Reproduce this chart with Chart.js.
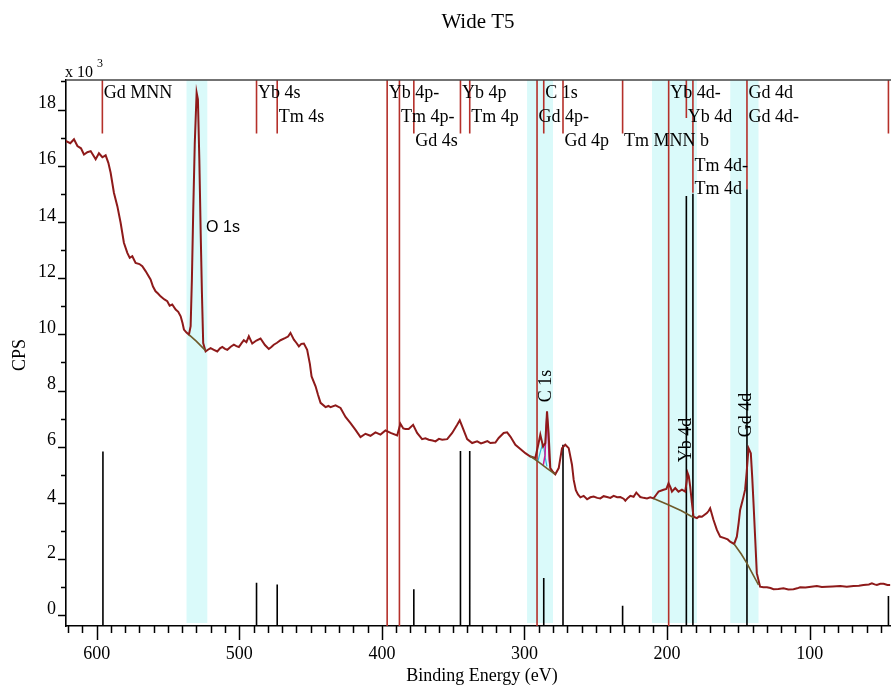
<!DOCTYPE html>
<html>
<head>
<meta charset="utf-8">
<title>Wide T5</title>
<script src="https://cdn.jsdelivr.net/npm/chart.js@4.4.1/dist/chart.umd.min.js"></script>
<style>
  html, body { margin: 0; padding: 0; background: #fff; }
  #wrap { width: 891px; height: 688px; position: relative; }
</style>
</head>
<body>
<div id="wrap"><canvas id="graficoWide"></canvas></div>
<script>
// survey spectrum: binding energy (eV) and CPS (x 10^3)
const energia = [
  621.7, 618.5, 615.9, 613.5, 611.0, 608.9, 606.5, 604.2, 602.3, 600.7, 598.4, 596.0, 593.7, 591.8, 590.2,
  587.9, 585.5, 583.2, 580.9, 578.5, 576.8, 575.0, 572.7, 570.0, 568.0, 565.7, 562.2, 560.5, 558.7, 557.0,
  555.2, 552.5, 550.5, 548.8, 547.0, 544.6, 542.8, 541.1, 539.8, 538.8, 537.0, 535.3, 534.1, 533.2, 532.3,
  531.2, 529.9, 529.0, 528.0, 527.1, 526.2, 525.3, 523.6, 522.0, 520.1, 517.8, 515.4, 513.5, 511.9, 510.0,
  508.4, 506.0, 503.8, 502.0, 500.3, 498.5, 496.8, 495.0, 493.3, 490.9, 488.0, 485.1, 482.0, 479.3, 477.5,
  475.8, 473.5, 471.1, 467.6, 465.8, 464.1, 461.7, 460.0, 458.2, 456.5, 454.7, 452.4, 450.5, 449.3, 446.5,
  444.8, 443.0, 439.5, 437.5, 436.0, 432.5, 429.0, 425.5, 422.0, 418.5, 415.0, 411.5, 408.0, 404.5, 401.0,
  397.5, 393.9, 389.3, 387.0, 385.0, 383.5, 381.2, 378.1, 375.3, 371.8, 369.5, 367.1, 364.5, 362.4, 360.0,
  357.7, 354.2, 350.7, 347.2, 345.4, 343.7, 340.2, 336.7, 333.2, 330.5, 328.6, 326.0, 323.9, 320.4, 318.1,
  314.6, 312.2, 309.9, 306.4, 302.9, 299.4, 295.9, 292.4, 290.1, 288.9, 287.0, 285.4, 284.2, 283.1, 281.9,
  280.0, 278.4, 276.0, 273.7, 271.4, 269.0, 266.7, 265.5, 264.0, 262.5, 260.8, 258.5, 256.1, 253.8, 251.5,
  249.0, 246.8, 244.5, 242.1, 239.8, 237.5, 235.0, 232.8, 230.5, 229.3, 227.5, 225.8, 223.5, 221.6, 220.0,
  218.8, 216.5, 214.1, 211.8, 209.5, 207.5, 206.0, 202.5, 200.5, 199.0, 197.6, 196.6, 194.3, 192.0, 189.6,
  187.3, 186.3, 185.6, 184.8, 183.8, 182.6, 181.5, 179.1, 177.5, 175.6, 172.1, 170.8, 169.8, 168.6, 167.5,
  165.1, 162.8, 159.3, 157.5, 155.8, 153.0, 151.1, 149.8, 148.8, 147.0, 145.3, 144.2, 142.9, 141.3, 140.3,
  139.4, 138.2, 137.1, 134.8, 132.5, 130.0, 127.5, 125.4, 122.0, 118.4, 115.0, 111.4, 108.8, 106.7, 103.0,
  99.0, 95.0, 91.5, 88.0, 84.0, 78.6, 74.0, 69.3, 65.5, 62.3, 58.5, 56.4, 54.5, 52.9, 50.5,
  48.2, 45.5, 43.6
];
const cps = [
  16.88, 16.80, 16.94, 16.70, 16.62, 16.40, 16.48, 16.52, 16.36, 16.23, 16.44, 16.30, 16.37, 16.10, 15.75,
  15.04, 14.56, 13.97, 13.26, 12.90, 12.72, 12.78, 12.54, 12.50, 12.42, 12.25, 11.95, 11.70, 11.53, 11.45,
  11.35, 11.24, 11.18, 11.02, 11.06, 10.88, 10.80, 10.64, 10.40, 10.17, 10.06, 9.99, 10.29, 12.00, 14.34,
  16.80, 18.60, 18.36, 16.20, 13.73, 11.50, 9.69, 9.39, 9.45, 9.51, 9.45, 9.39, 9.50, 9.55, 9.48,
  9.45, 9.56, 9.63, 9.58, 9.55, 9.68, 9.79, 9.72, 9.93, 9.67, 9.78, 9.85, 9.62, 9.48, 9.55,
  9.63, 9.70, 9.79, 9.87, 9.92, 10.05, 9.81, 9.70, 9.57, 9.66, 9.67, 9.45, 8.95, 8.50, 8.15,
  7.85, 7.56, 7.41, 7.45, 7.41, 7.47, 7.38, 7.06, 6.84, 6.60, 6.34, 6.46, 6.39, 6.51, 6.43,
  6.58, 6.49, 6.40, 6.82, 6.65, 6.63, 6.63, 6.78, 6.49, 6.27, 6.30, 6.25, 6.22, 6.19, 6.28,
  6.25, 6.27, 6.49, 6.78, 6.94, 6.72, 6.27, 6.13, 6.19, 6.12, 6.15, 6.20, 6.13, 6.15, 6.31,
  6.49, 6.51, 6.36, 6.07, 5.92, 5.77, 5.65, 5.60, 6.13, 6.43, 6.01, 6.13, 7.26, 6.49, 5.24,
  5.10, 5.02, 5.24, 5.95, 6.07, 5.95, 5.36, 4.82, 4.45, 4.30, 4.20, 4.25, 4.13, 4.20, 4.23,
  4.18, 4.16, 4.24, 4.21, 4.18, 4.25, 4.20, 4.21, 4.15, 4.08, 4.18, 4.25, 4.22, 4.37, 4.28,
  4.21, 4.18, 4.16, 4.20, 4.16, 4.30, 4.40, 4.47, 4.50, 4.70, 4.55, 4.40, 4.53, 4.40, 4.47,
  4.40, 4.75, 5.06, 4.95, 4.58, 4.00, 3.51, 3.46, 3.52, 3.51, 3.64, 3.72, 3.81, 3.60, 3.40,
  3.04, 2.80, 2.74, 2.70, 2.62, 2.54, 2.80, 3.30, 3.75, 4.10, 4.47, 5.10, 5.95, 5.77, 4.90,
  3.99, 2.70, 1.50, 1.02, 1.00, 1.00, 0.97, 0.93, 0.94, 0.96, 0.92, 0.93, 0.96, 1.00, 0.99,
  1.02, 1.04, 1.01, 1.02, 1.03, 1.04, 1.02, 1.04, 1.05, 1.08, 1.10, 1.14, 1.10, 1.08, 1.12,
  1.12, 1.08, 1.08
];

// background under the fitted peaks (O 1s, C 1s, Yb 4d, Gd 4d)
const fondoEnergia = [535.3, 530.0, 523.6, null, 296.0, 290.0, 284.0, 278.4, null, 209.5, 200.0, 190.0, 181.5, null, 153.0, 148.0, 144.0, 139.5, 135.9];
const fondoCps = [9.99, 9.75, 9.42, null, 5.67, 5.45, 5.22, 5.02, null, 4.16, 3.95, 3.72, 3.48, null, 2.54, 2.18, 1.85, 1.42, 1.08];

// C 1s fit components
const c1sAEnergia = [286.8, 285.6, 284.9, 284.2, 283.5, 282.7, 281.9];
const c1sACps = [5.35, 5.70, 6.60, 7.20, 6.50, 5.50, 5.25];
const c1sBEnergia = [290.5, 289.0, 287.6, 286.5, 285.4, 284.3];
const c1sBCps = [5.50, 5.80, 6.05, 6.00, 5.60, 5.30];

// quantified regions (eV)
const regionDesde = [537.0, 298.2, 210.6, 155.7];
const regionHasta = [522.4, 280.0, 179.1, 135.9];
const regionNombres = ['O 1s', 'C 1s', 'Yb 4d', 'Gd 4d'];

// line identification markers
const marcaNombres = ['Gd MNN', 'Yb 4s', 'Tm 4s', 'Yb 4p-', 'Tm 4p-', 'Gd 4s', 'Yb 4p', 'Tm 4p', 'Gd 4p-', 'C 1s',
  'Gd 4p', 'Tm MNN b', 'Yb 4d-', 'Yb 4d', 'Tm 4d-', 'Tm 4d', 'Gd 4d', 'Gd 4d-', ''];
const marcaEnergia = [596.0, 487.9, 473.4, 396.3, 387.7, 377.6, 344.9, 338.4, 291.2, 286.5,
  273.0, 231.2, 198.9, 186.5, 181.9, 181.9, 144.0, 144.0, 44.8];
const marcaFin = [17.15, 17.15, 17.15, -0.38, -0.38, 17.15, 17.15, 17.15, -0.38, 17.15,
  17.15, 17.15, -0.38, 17.7, 15.04, 15.04, 15.16, 15.16, 17.15];

// reference peak sticks
const refEnergia = [595.6, 487.9, 473.4, 377.6, 344.9, 338.4, 286.5, 273.0, 231.2, 186.5, 181.9, 144.0, 44.8];
const refAltura = [5.83, 1.16, 1.10, 0.93, 5.85, 5.85, 1.33, 6.07, 0.34, 14.92, 15.0, 15.16, 0.69];

const xTicks = [100, 200, 300, 400, 500, 600];
const yTicks = [0, 2, 4, 6, 8, 10, 12, 14, 16, 18];

const X_MIN = 43, X_MAX = 621.5, Y_MIN = -0.38, Y_MAX = 19.05;
const SERIF = '"Liberation Serif", "Times New Roman", serif';

document.addEventListener('DOMContentLoaded', function() {
    const canvas = document.getElementById('graficoWide');
    if (!canvas) return;

    try {
        const aPuntos = (xs, ys) => xs.map((e, i) => ({ x: e, y: ys[i] }));

        const espectro = aPuntos(energia, cps);
        const fondo = fondoEnergia.map((e, i) => e === null ? { x: NaN, y: null } : { x: e, y: fondoCps[i] });

        // sticks and markers as one dataset each, separated by gaps
        const palos = [];
        refEnergia.forEach((e, i) => {
            palos.push({ x: e, y: Y_MIN }, { x: e, y: refAltura[i] }, { x: e, y: null });
        });
        const marcas = [];
        marcaEnergia.forEach((e, i) => {
            marcas.push({ x: e, y: Y_MAX }, { x: e, y: marcaFin[i] }, { x: e, y: null });
        });

        // label rows for the markers (layout only)
        const filas = [0, 0, 1, 0, 1, 2, 0, 1, 1, 0, 2, 2, 0, 1, 3, 4, 0, 1, 0];
        const filaY = [93, 117.5, 141.5, 166, 189.5];

        const decoracion = {
            id: 'decoracion',
            beforeDatasetsDraw(chart) {
                const { ctx, chartArea, scales: { x } } = chart;
                ctx.save();
                ctx.fillStyle = '#DAFAFA';
                regionDesde.forEach((e, i) => {
                    const a = x.getPixelForValue(e);
                    const b = x.getPixelForValue(regionHasta[i]);
                    ctx.fillRect(Math.min(a, b), chartArea.top, Math.abs(b - a), chartArea.bottom - chartArea.top - 3);
                });
                ctx.restore();
            },
            afterDraw(chart) {
                const { ctx, chartArea, scales: { x, y } } = chart;
                ctx.save();

                // top frame line
                ctx.strokeStyle = '#444';
                ctx.lineWidth = 1.5;
                ctx.beginPath();
                ctx.moveTo(chartArea.left, chartArea.top);
                ctx.lineTo(chartArea.right, chartArea.top);
                ctx.stroke();

                // outward tick marks, major and minor
                ctx.strokeStyle = '#000';
                for (let e = 50; e <= 620; e += 10) {
                    const px = Math.round(x.getPixelForValue(e)) + 0.5;
                    const largo = e % 100 === 0 ? 14 : 7;
                    ctx.beginPath();
                    ctx.moveTo(px, chartArea.bottom);
                    ctx.lineTo(px, chartArea.bottom + largo);
                    ctx.stroke();
                }
                for (let v = 0; v <= 19; v++) {
                    const py = Math.round(y.getPixelForValue(v)) + 0.5;
                    const largo = v % 2 === 0 ? 8 : 5;
                    ctx.beginPath();
                    ctx.moveTo(chartArea.left, py);
                    ctx.lineTo(chartArea.left - largo, py);
                    ctx.stroke();
                }

                // marker labels
                ctx.fillStyle = '#000';
                ctx.font = '18px ' + SERIF;
                ctx.textAlign = 'left';
                ctx.textBaseline = 'middle';
                marcaNombres.forEach((n, i) => {
                    if (!n) return;
                    ctx.fillText(n, x.getPixelForValue(marcaEnergia[i]) + 1.5, filaY[filas[i]]);
                });

                // region labels: O 1s horizontal, the others rotated
                ctx.font = '16px "Liberation Sans", Arial, sans-serif';
                ctx.textAlign = 'center';
                ctx.fillText(regionNombres[0], 223, 228);
                ctx.font = '18px ' + SERIF;
                const rotados = [[regionNombres[1], 546.5, 386], [regionNombres[2], 686.5, 440], [regionNombres[3], 746.5, 415]];
                rotados.forEach(([t, tx, ty]) => {
                    ctx.save();
                    ctx.translate(tx, ty);
                    ctx.rotate(-Math.PI / 2);
                    ctx.fillText(t, 0, 0);
                    ctx.restore();
                });

                // titles
                ctx.font = '21px ' + SERIF;
                ctx.fillText('Wide T5', 478, 22);
                ctx.font = '18px ' + SERIF;
                ctx.fillText('Binding Energy (eV)', 482, 676);
                ctx.save();
                ctx.translate(20, 355);
                ctx.rotate(-Math.PI / 2);
                ctx.fillText('CPS', 0, 0);
                ctx.restore();

                // axis multiplier
                ctx.textAlign = 'left';
                ctx.font = '16px ' + SERIF;
                ctx.fillText('x 10', 65, 73);
                ctx.font = '12px ' + SERIF;
                ctx.fillText('3', 97, 64);

                ctx.restore();
            }
        };

        Chart.defaults.font.family = SERIF;
        Chart.defaults.font.size = 18;
        Chart.defaults.color = '#000';

        new Chart(canvas.getContext('2d'), {
            type: 'scatter',
            data: {
                datasets: [
                    {
                        label: 'Reference',
                        data: palos,
                        showLine: true,
                        spanGaps: false,
                        borderColor: '#000',
                        borderWidth: 1.6,
                        pointRadius: 0,
                        order: 5
                    },
                    {
                        label: 'Markers',
                        data: marcas,
                        showLine: true,
                        spanGaps: false,
                        borderColor: '#B5302A',
                        borderWidth: 1.6,
                        pointRadius: 0,
                        order: 4
                    },
                    {
                        label: 'C 1s A',
                        data: aPuntos(c1sAEnergia, c1sACps),
                        showLine: true,
                        borderColor: '#D0189A',
                        backgroundColor: 'rgba(208,24,154,0.25)',
                        borderWidth: 1.5,
                        pointRadius: 0,
                        order: 3
                    },
                    {
                        label: 'C 1s B',
                        data: aPuntos(c1sBEnergia, c1sBCps),
                        showLine: true,
                        borderColor: '#30B8D8',
                        borderWidth: 1.2,
                        pointRadius: 0,
                        order: 3
                    },
                    {
                        label: 'Spectrum',
                        data: espectro,
                        showLine: true,
                        borderColor: '#8E1A1A',
                        borderWidth: 2,
                        pointRadius: 0,
                        tension: 0,
                        order: 2
                    },
                    {
                        label: 'Background',
                        data: fondo,
                        showLine: true,
                        spanGaps: false,
                        borderColor: '#6E5A2A',
                        borderWidth: 1.6,
                        pointRadius: 0,
                        order: 1
                    }
                ]
            },
            options: {
                responsive: true,
                maintainAspectRatio: false,
                animation: false,
                layout: { padding: { top: 80, right: 0, bottom: 0, left: 0 } },
                plugins: {
                    legend: { display: false },
                    title: { display: false },
                    tooltip: { enabled: false }
                },
                scales: {
                    x: {
                        type: 'linear',
                        reverse: true,
                        min: X_MIN,
                        max: X_MAX,
                        afterFit: s => { s.height = 62; },
                        afterBuildTicks: s => { s.ticks = xTicks.map(v => ({ value: v })); },
                        grid: { display: false, drawTicks: false },
                        border: { display: true, color: '#000', width: 1.6 },
                        ticks: { padding: 17, maxRotation: 0, autoSkip: false, includeBounds: false }
                    },
                    y: {
                        type: 'linear',
                        min: Y_MIN,
                        max: Y_MAX,
                        afterFit: s => { s.width = 66; },
                        afterBuildTicks: s => { s.ticks = yTicks.map(v => ({ value: v })); },
                        grid: { display: false, drawTicks: false },
                        border: { display: true, color: '#000', width: 1.6 },
                        ticks: { padding: 10, labelOffset: -6, autoSkip: false, includeBounds: false }
                    }
                }
            },
            plugins: [decoracion]
        });
    } catch (error) {
        console.error('Error al crear el gráfico:', error);
    }
});
</script>
</body>
</html>
